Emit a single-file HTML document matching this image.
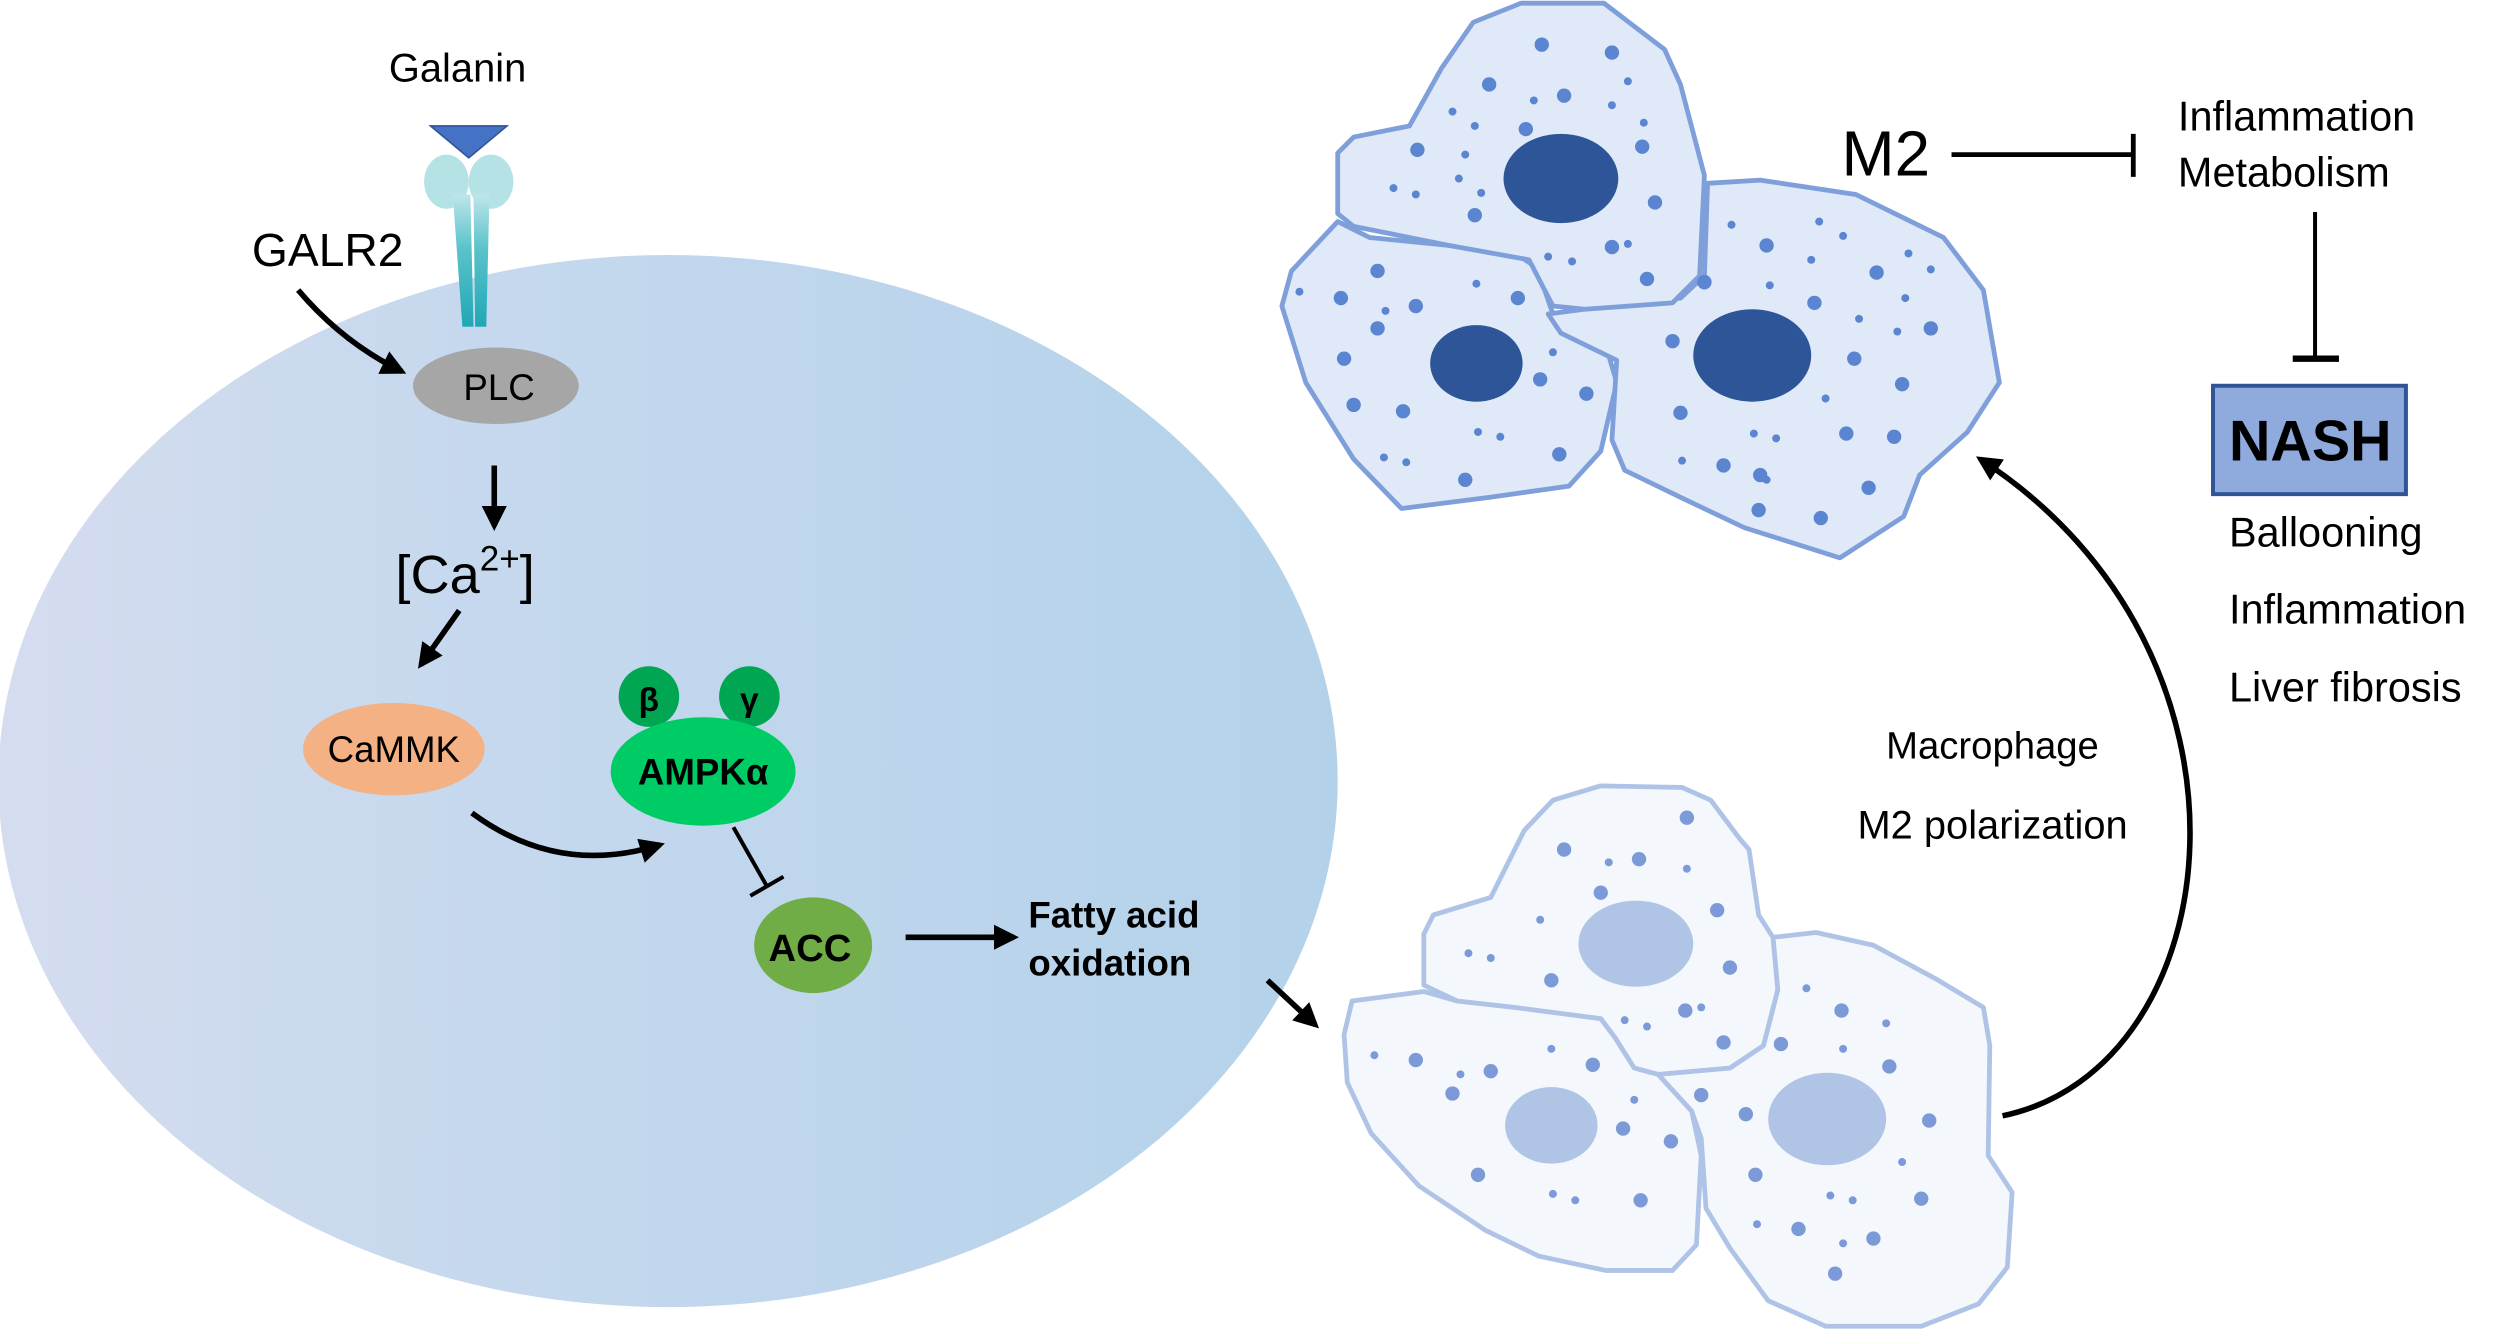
<!DOCTYPE html>
<html><head><meta charset="utf-8"><style>
html,body{margin:0;padding:0;background:#fff;}
svg{display:block;}
text{font-family:"Liberation Sans",Arial,sans-serif;fill:#000;}
</style></head><body>
<svg width="2500" height="1331" viewBox="0 0 1568 835" preserveAspectRatio="none" xmlns="http://www.w3.org/2000/svg">
<defs>
<linearGradient id="cg" x1="0" y1="0" x2="1" y2="0">
<stop offset="0" stop-color="#d5dcef"/><stop offset="0.3" stop-color="#c8d9ee"/><stop offset="1" stop-color="#b3d2ea"/>
</linearGradient>
<linearGradient id="rg" x1="0" y1="0" x2="0" y2="1">
<stop offset="0" stop-color="#bfe6ea"/><stop offset="0.4" stop-color="#5cc3cc"/><stop offset="1" stop-color="#1fa8b4"/>
</linearGradient>
<marker id="ah" viewBox="0 0 10 10" refX="8" refY="5" markerWidth="4.5" markerHeight="4.5" orient="auto" markerUnits="strokeWidth">
<path d="M0,0 L10,5 L0,10 z" fill="#000"/></marker>
</defs>

<ellipse cx="419" cy="490" rx="420" ry="330" fill="url(#cg)"/>

<!-- receptor -->
<text x="287" y="51" font-size="25" text-anchor="middle">Galanin</text>
<ellipse cx="280" cy="114" rx="14" ry="17" fill="#a8dde1" opacity="0.85"/>
<ellipse cx="308" cy="114" rx="14" ry="17" fill="#a8dde1" opacity="0.85"/>
<path d="M284,122 L295,122 L297,205 L290,205 z" fill="url(#rg)"/>
<path d="M297,122 L307,122 L305,205 L298,205 z" fill="url(#rg)"/>
<path d="M270,79 L318,79 L294,99 z" fill="#4472c4" stroke="#2f5597" stroke-width="1"/>

<text x="158" y="167" font-size="29">GALR2</text>
<path d="M187,182 Q215,215 252,233" fill="none" stroke="#000" stroke-width="3.5" marker-end="url(#ah)"/>

<ellipse cx="311" cy="242" rx="52" ry="24" fill="#a6a6a6"/>
<text x="313" y="251" font-size="23" text-anchor="middle">PLC</text>

<line x1="310" y1="292" x2="310" y2="330" stroke="#000" stroke-width="3.5" marker-end="url(#ah)"/>
<text x="248" y="372" font-size="34">[Ca<tspan font-size="22" dy="-14">2+</tspan><tspan dy="14">]</tspan></text>
<line x1="288" y1="383" x2="264" y2="417" stroke="#000" stroke-width="3.5" marker-end="url(#ah)"/>

<ellipse cx="247" cy="470" rx="57" ry="29" fill="#f4b183"/>
<text x="247" y="478" font-size="23" text-anchor="middle">CaMMK</text>
<path d="M296,510 Q350,550 414,530" fill="none" stroke="#000" stroke-width="3.5" marker-end="url(#ah)"/>

<circle cx="407" cy="437" r="19" fill="#00a651"/>
<circle cx="470" cy="437" r="19" fill="#00a651"/>
<text x="407" y="446" font-size="21" font-weight="bold" text-anchor="middle">β</text>
<text x="470" y="446" font-size="21" font-weight="bold" text-anchor="middle">γ</text>
<ellipse cx="441" cy="484" rx="58" ry="34" fill="#00cc66"/>
<text x="441" y="492" font-size="23" font-weight="bold" text-anchor="middle">AMPKα</text>

<ellipse cx="510" cy="593" rx="37" ry="30" fill="#70ad47"/>
<text x="508" y="603" font-size="24" font-weight="bold" text-anchor="middle">ACC</text>
<line x1="460" y1="519" x2="481" y2="556" stroke="#000" stroke-width="2.5"/>
<line x1="470.6" y1="562" x2="491.4" y2="550" stroke="#000" stroke-width="2.5"/>

<line x1="568" y1="588" x2="636" y2="588" stroke="#000" stroke-width="3.5" marker-end="url(#ah)"/>
<text x="645" y="582" font-size="23" font-weight="bold">Fatty acid</text>
<text x="645" y="612" font-size="23" font-weight="bold">oxidation</text>
<line x1="795" y1="615" x2="825" y2="643" stroke="#000" stroke-width="3.5" marker-end="url(#ah)"/>

<!-- top cells -->
<g fill="#dfe9f7" stroke="#7f9fdb" stroke-width="3" stroke-linejoin="round">
<polygon points="839,139 859,149 949,158 964,168 974,197 1009,223 1014,240 1004,283 984,305 934,312 879,319 849,288 819,240 804,192 810,170"/>
<polygon points="1071,115 1104,113 1164,122 1219,149 1244,182 1254,240 1234,271 1204,298 1194,324 1154,350 1094,331 1054,312 1019,295 1011,276 1014,226 979,209 971,197 1009,192 1054,187 1069,173"/>
<polygon points="954,2 1006,2 1044,31 1054,53 1069,110 1066,173 1049,190 994,194 974,192 959,163 909,154 849,142 839,134 839,96 849,86 884,79 904,43 924,14"/>
</g>
<g fill="#2e5597">
<ellipse cx="979" cy="112" rx="36" ry="28"/>
<ellipse cx="926" cy="228" rx="29" ry="24"/>
<ellipse cx="1099" cy="223" rx="37" ry="29"/>
</g>
<g fill="#5b85d0">
<circle cx="967" cy="28" r="4.5"/><circle cx="1011" cy="33" r="4.5"/><circle cx="934" cy="53" r="4.5"/><circle cx="981" cy="60" r="4.5"/><circle cx="957" cy="81" r="4.5"/><circle cx="889" cy="94" r="4.5"/><circle cx="1030" cy="92" r="4.5"/><circle cx="1038" cy="127" r="4.5"/><circle cx="925" cy="135" r="4.5"/><circle cx="1011" cy="155" r="4.5"/><circle cx="1033" cy="175" r="4.5"/><circle cx="1069" cy="177" r="4.5"/>
<circle cx="1021" cy="51" r="2.5"/><circle cx="962" cy="63" r="2.5"/><circle cx="1011" cy="66" r="2.5"/><circle cx="911" cy="70" r="2.5"/><circle cx="925" cy="79" r="2.5"/><circle cx="1031" cy="77" r="2.5"/><circle cx="919" cy="97" r="2.5"/><circle cx="915" cy="112" r="2.5"/><circle cx="874" cy="118" r="2.5"/><circle cx="888" cy="122" r="2.5"/><circle cx="929" cy="121" r="2.5"/><circle cx="1021" cy="153" r="2.5"/><circle cx="971" cy="161" r="2.5"/><circle cx="986" cy="164" r="2.5"/>
<circle cx="864" cy="170" r="4.5"/><circle cx="841" cy="187" r="4.5"/><circle cx="888" cy="192" r="4.5"/><circle cx="952" cy="187" r="4.5"/><circle cx="864" cy="206" r="4.5"/><circle cx="843" cy="225" r="4.5"/><circle cx="966" cy="238" r="4.5"/><circle cx="995" cy="247" r="4.5"/><circle cx="849" cy="254" r="4.5"/><circle cx="880" cy="258" r="4.5"/><circle cx="978" cy="285" r="4.5"/><circle cx="919" cy="301" r="4.5"/>
<circle cx="815" cy="183" r="2.5"/><circle cx="926" cy="178" r="2.5"/><circle cx="869" cy="195" r="2.5"/><circle cx="974" cy="221" r="2.5"/><circle cx="927" cy="271" r="2.5"/><circle cx="941" cy="274" r="2.5"/><circle cx="868" cy="287" r="2.5"/><circle cx="882" cy="290" r="2.5"/>
<circle cx="1108" cy="154" r="4.5"/><circle cx="1069" cy="177" r="4.5"/><circle cx="1177" cy="171" r="4.5"/><circle cx="1138" cy="190" r="4.5"/><circle cx="1211" cy="206" r="4.5"/><circle cx="1049" cy="214" r="4.5"/><circle cx="1163" cy="225" r="4.5"/><circle cx="1193" cy="241" r="4.5"/><circle cx="1054" cy="259" r="4.5"/><circle cx="1158" cy="272" r="4.5"/><circle cx="1188" cy="274" r="4.5"/><circle cx="1081" cy="292" r="4.5"/><circle cx="1104" cy="298" r="4.5"/><circle cx="1172" cy="306" r="4.5"/><circle cx="1103" cy="320" r="4.5"/><circle cx="1142" cy="325" r="4.5"/>
<circle cx="1086" cy="141" r="2.5"/><circle cx="1141" cy="139" r="2.5"/><circle cx="1156" cy="148" r="2.5"/><circle cx="1197" cy="159" r="2.5"/><circle cx="1136" cy="163" r="2.5"/><circle cx="1211" cy="169" r="2.5"/><circle cx="1110" cy="179" r="2.5"/><circle cx="1195" cy="187" r="2.5"/><circle cx="1166" cy="200" r="2.5"/><circle cx="1190" cy="208" r="2.5"/><circle cx="1145" cy="250" r="2.5"/><circle cx="1100" cy="272" r="2.5"/><circle cx="1114" cy="275" r="2.5"/><circle cx="1055" cy="289" r="2.5"/><circle cx="1108" cy="301" r="2.5"/>
</g>

<!-- lower cells -->
<g fill="#f4f8fd" stroke="#afc3e6" stroke-width="3" stroke-linejoin="round">
<polygon points="848,628 893,622 914,628 950,632 1004,639 1013,651 1025,670 1040,674 1061,697 1067,725 1064,781 1049,797 1007,797 965,788 932,772 890,744 860,711 845,679 843,649"/>
<polygon points="1112,588 1139,585 1175,593 1214,614 1244,632 1248,656 1247,725 1262,748 1259,795 1241,818 1205,832 1145,832 1109,816 1085,783 1070,758 1067,714 1061,697 1040,674 1085,670 1106,656 1115,621"/>
<polygon points="1004,493 1055,494 1073,502 1091,526 1097,533 1103,574 1112,588 1115,621 1106,656 1085,670 1040,674 1025,670 1013,651 1004,639 950,632 914,628 893,618 893,586 899,574 935,563 941,551 956,521 974,502"/>
</g>
<g fill="#b0c4e6">
<ellipse cx="1026" cy="592" rx="36" ry="27"/>
<ellipse cx="973" cy="706" rx="29" ry="24"/>
<ellipse cx="1146" cy="702" rx="37" ry="29"/>
</g>
<g fill="#7d9ad8">
<circle cx="1058" cy="513" r="4.5"/><circle cx="981" cy="533" r="4.5"/><circle cx="1028" cy="539" r="4.5"/><circle cx="1004" cy="560" r="4.5"/><circle cx="1077" cy="571" r="4.5"/><circle cx="1085" cy="607" r="4.5"/><circle cx="973" cy="615" r="4.5"/><circle cx="1057" cy="634" r="4.5"/><circle cx="1081" cy="654" r="4.5"/>
<circle cx="1009" cy="541" r="2.5"/><circle cx="1058" cy="545" r="2.5"/><circle cx="966" cy="577" r="2.5"/><circle cx="921" cy="598" r="2.5"/><circle cx="935" cy="601" r="2.5"/><circle cx="1067" cy="632" r="2.5"/><circle cx="1019" cy="640" r="2.5"/><circle cx="1033" cy="644" r="2.5"/>
<circle cx="888" cy="665" r="4.5"/><circle cx="935" cy="672" r="4.5"/><circle cx="999" cy="668" r="4.5"/><circle cx="911" cy="686" r="4.5"/><circle cx="1018" cy="708" r="4.5"/><circle cx="1048" cy="716" r="4.5"/><circle cx="927" cy="737" r="4.5"/><circle cx="1029" cy="753" r="4.5"/>
<circle cx="862" cy="662" r="2.5"/><circle cx="973" cy="658" r="2.5"/><circle cx="916" cy="674" r="2.5"/><circle cx="1025" cy="690" r="2.5"/><circle cx="974" cy="749" r="2.5"/><circle cx="988" cy="753" r="2.5"/>
<circle cx="1155" cy="634" r="4.5"/><circle cx="1117" cy="655" r="4.5"/><circle cx="1185" cy="669" r="4.5"/><circle cx="1067" cy="687" r="4.5"/><circle cx="1095" cy="699" r="4.5"/><circle cx="1210" cy="703" r="4.5"/><circle cx="1101" cy="737" r="4.5"/><circle cx="1205" cy="752" r="4.5"/><circle cx="1128" cy="771" r="4.5"/><circle cx="1175" cy="777" r="4.5"/><circle cx="1151" cy="799" r="4.5"/>
<circle cx="1133" cy="620" r="2.5"/><circle cx="1183" cy="642" r="2.5"/><circle cx="1156" cy="658" r="2.5"/><circle cx="1193" cy="729" r="2.5"/><circle cx="1148" cy="750" r="2.5"/><circle cx="1162" cy="753" r="2.5"/><circle cx="1102" cy="768" r="2.5"/><circle cx="1156" cy="780" r="2.5"/>
</g>

<!-- right side -->
<text x="1155" y="110" font-size="40">M2</text>
<line x1="1224" y1="97" x2="1338" y2="97" stroke="#000" stroke-width="3"/>
<line x1="1338" y1="84" x2="1338" y2="111" stroke="#000" stroke-width="3"/>
<text x="1366" y="82" font-size="26">Inflammation</text>
<text x="1366" y="117" font-size="26">Metabolism</text>
<line x1="1452" y1="133" x2="1452" y2="224" stroke="#000" stroke-width="2.5"/>
<line x1="1438" y1="225" x2="1467" y2="225" stroke="#000" stroke-width="4"/>
<rect x="1388" y="242" width="121" height="68" fill="#8faadc" stroke="#2f5597" stroke-width="2.5"/>
<text x="1449" y="289" font-size="36" font-weight="bold" text-anchor="middle">NASH</text>
<text x="1398" y="343" font-size="26">Ballooning</text>
<text x="1398" y="391" font-size="26">Inflammation</text>
<text x="1398" y="440" font-size="26">Liver fibrosis</text>
<text x="1183" y="476" font-size="24">Macrophage</text>
<text x="1165" y="526" font-size="25">M2 polarization</text>
<path d="M1256,700 C1400,670 1430,410 1242,288" fill="none" stroke="#000" stroke-width="3.5" marker-end="url(#ah)"/>
</svg>
</body></html>
